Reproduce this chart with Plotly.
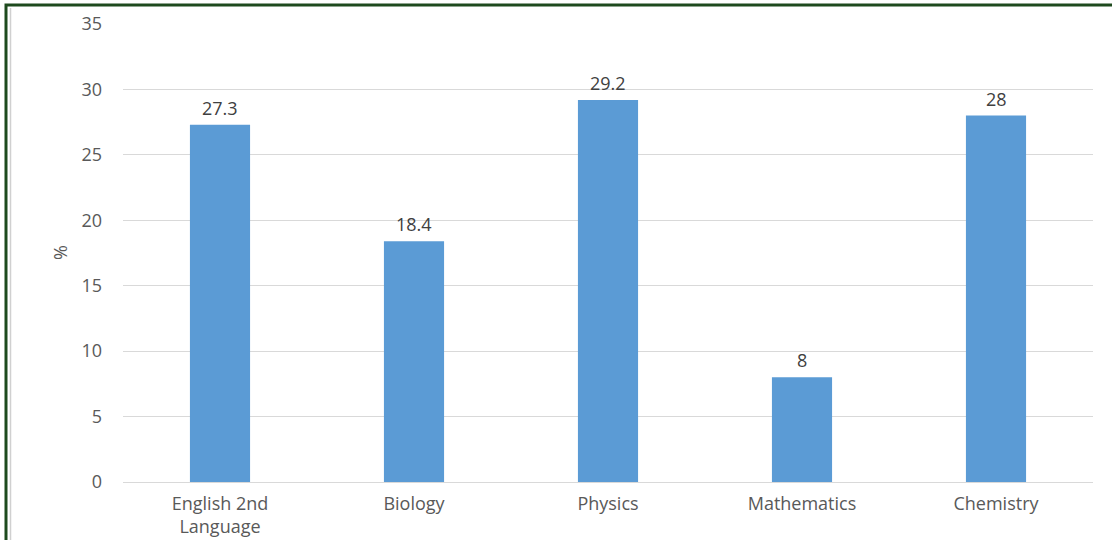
import plotly.graph_objects as go

subjects = ["English 2nd<br>Language", "Biology", "Physics", "Mathematics", "Chemistry"]
percent = [27.3, 18.4, 29.2, 8, 28]
y_ticks = [0, 5, 10, 15, 20, 25, 30, 35]

W, H = 1112, 540
L, R, T, B = 123, 19, 24, 58
pw, ph = W - L - R, H - T - B


def px_x(p):
    return (p - L) / pw


def px_y(p):
    return (H - B - p) / ph


text_col = "#595959"
font_family = "Open Sans, Calibri, Arial, sans-serif"
fs = 18

fig = go.Figure(
    go.Bar(
        x=subjects,
        y=percent,
        marker=dict(color="#5B9BD5", line=dict(width=0)),
    )
)

# value labels sitting above each bar
value_labels = [
    dict(
        x=s,
        y=v,
        xref="x",
        yref="y",
        text=f"{v:g}",
        showarrow=False,
        yanchor="bottom",
        yshift=3,
        font=dict(size=fs, color="#404040"),
    )
    for s, v in zip(subjects, percent)
]

fig.update_layout(
    width=W,
    height=H,
    margin=dict(l=L, r=R, t=T, b=B, autoexpand=False),
    paper_bgcolor="white",
    plot_bgcolor="white",
    bargap=0.69,
    showlegend=False,
    font=dict(family=font_family, size=fs, color=text_col),
    xaxis=dict(
        automargin=False,
        showgrid=False,
        showline=False,
        zeroline=False,
        ticks="",
        tickfont=dict(size=fs, color=text_col),
        ticklabelstandoff=9,
    ),
    yaxis=dict(
        automargin=False,
        range=[0, 35],
        tickvals=y_ticks,
        showgrid=True,
        gridcolor="#D9D9D9",
        gridwidth=1,
        zeroline=True,
        zerolinecolor="#D9D9D9",
        zerolinewidth=1,
        showline=False,
        ticks="",
        ticklabelstandoff=20,
        tickfont=dict(size=fs, color=text_col),
    ),
    annotations=value_labels
    + [
        dict(
            text="%",
            x=px_x(60),
            y=px_y(252),
            xref="paper",
            yref="paper",
            xanchor="center",
            yanchor="middle",
            showarrow=False,
            textangle=-90,
            font=dict(size=fs, color=text_col),
        )
    ],
    shapes=[
        dict(
            type="rect",
            xref="paper",
            yref="paper",
            x0=px_x(6),
            x1=px_x(1130),
            y0=px_y(5),
            y1=px_y(560),
            line=dict(color="#1E4A1E", width=3),
            fillcolor="rgba(0,0,0,0)",
            layer="above",
        ),
        dict(
            type="line",
            xref="paper",
            yref="paper",
            x0=px_x(10.5),
            x1=px_x(10.5),
            y0=px_y(8),
            y1=px_y(545),
            line=dict(color="#D0D0D0", width=1.5),
        ),
    ],
)

fig.write_html("out.html")
